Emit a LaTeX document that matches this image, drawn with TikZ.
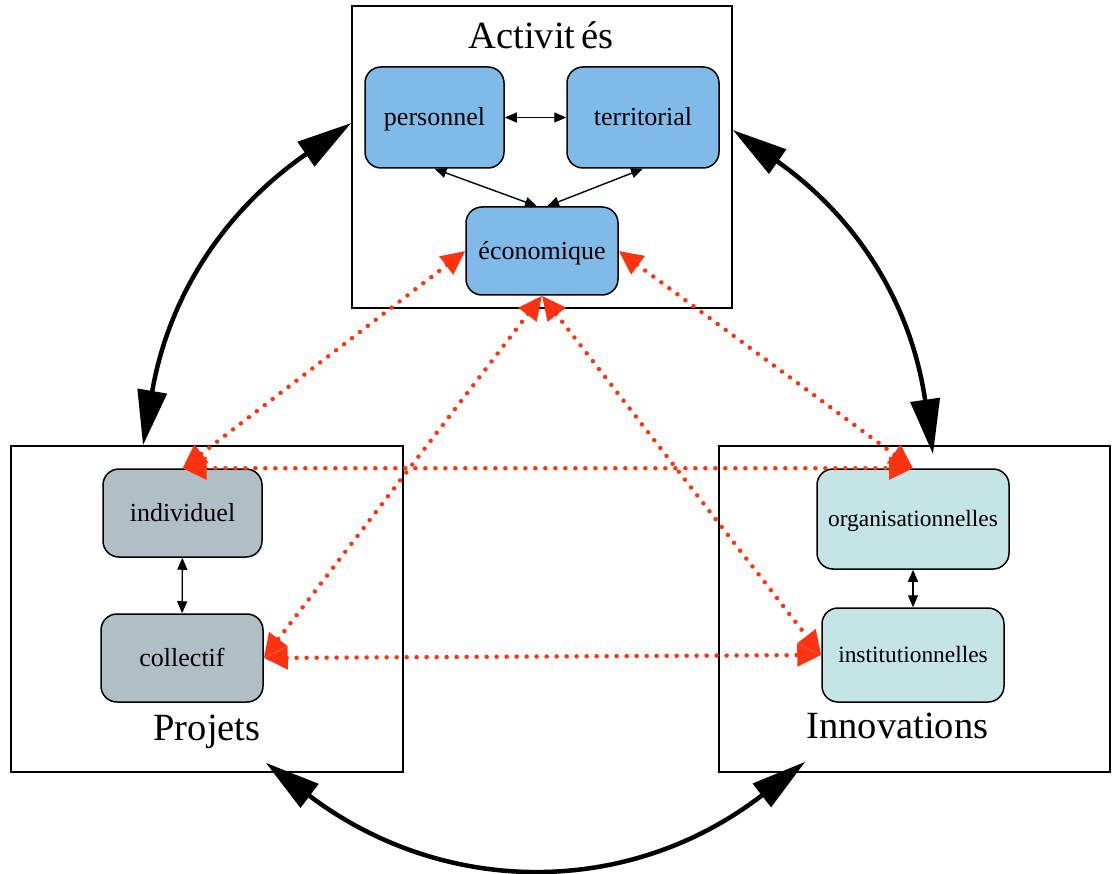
\documentclass[tikz,border=0pt]{standalone}
\usepackage{fontspec}
\setmainfont{Liberation Serif}
\usetikzlibrary{arrows.meta}
\definecolor{redd}{RGB}{255,51,17}
\definecolor{bluefill}{RGB}{128,186,232}
\definecolor{greyfill}{RGB}{176,190,198}
\definecolor{cyanfill}{RGB}{196,228,230}
\begin{document}
\begin{tikzpicture}[x=1pt,y=-1pt,
  bigbox/.style={draw, line width=1.5pt, inner sep=0pt},
  item/.style={draw, line width=1.5pt, rounded corners=16pt, inner sep=0pt, text height=17pt, text depth=0pt, font=\fontsize{26}{30}\selectfont},
  smallitem/.style={item, text height=15pt, font=\fontsize{23.4}{27}\selectfont},
  title/.style={font=\fontsize{38.5}{44}\selectfont, anchor=base, inner sep=0pt},
  thinarrow/.style={line width=1.4pt, {Triangle[length=12pt,width=10pt]}-{Triangle[length=12pt,width=10pt]}},
  bigarrow/.style={line width=4.5pt, {Triangle[length=55pt,width=29pt]}-{Triangle[length=55pt,width=29pt]}},
  reddot/.style={redd, line width=4.5pt, line cap=round, dash pattern=on 0pt off 10pt, {Triangle[length=24pt,width=22pt]}-{Triangle[length=24pt,width=22pt]}}]
\useasboundingbox (0,0) rectangle (1118,874);
% big boxes
\node[bigbox, minimum width=380pt, minimum height=302pt] (act) at (542,157) {};
\node[bigbox, minimum width=392pt, minimum height=326pt] (proj) at (207,609) {};
\node[bigbox, minimum width=391pt, minimum height=326pt] (inno) at (914.5,609) {};
% titles
\node[title] (tact) at (541,49) {Activit\kern6pt és};
\node[title] (tproj) at (207,740) {Projets};
\node[title] (tinno) at (897.5,738) {Innovations};
% items
\node[item, fill=bluefill, minimum width=139pt, minimum height=101pt] (pers) at (434.5,117.5) {personnel};
\node[item, fill=bluefill, minimum width=152pt, minimum height=101pt] (terr) at (643,117.5) {territorial};
\node[item, fill=bluefill, minimum width=152pt, minimum height=88pt] (eco) at (542,251) {économique};
\node[item, fill=greyfill, minimum width=159pt, minimum height=88pt] (indiv) at (182.5,513) {individuel};
\node[item, fill=greyfill, minimum width=162pt, minimum height=88pt] (coll) at (182,658) {collectif};
\node[smallitem, fill=cyanfill, minimum width=192pt, minimum height=100pt] (org) at (913,519) {organisationnelles};
\node[smallitem, fill=cyanfill, minimum width=182pt, minimum height=94pt] (inst) at (913,655) {institutionnelles};
% thin black arrows
\draw[thinarrow] (pers) -- (terr);
\draw[thinarrow] (pers.south) -- ([xshift=-5pt]eco.north);
\draw[thinarrow] (terr.south) -- ([xshift=5pt]eco.north);
\draw[thinarrow] (indiv) -- (coll);
\draw[thinarrow] (org) -- (inst);
% big arcs (parts of one circle)
\draw[bigarrow] ([yshift=34pt]act.west) .. controls (225,210) and (168.7,295.2) .. ([xshift=-64pt]proj.north);
\draw[bigarrow] ([yshift=27pt]act.east) .. controls (857.2,217.7) and (911.1,303.6) .. ([xshift=18.5pt,yshift=-9pt]inno.north);
\draw[bigarrow] ([xshift=-138pt,yshift=10pt]proj.south east) .. controls (443.7,897.4) and (629.3,898.1) .. ([xshift=87pt,yshift=11pt]inno.south west);
% red dotted arrows
\draw[reddot] (eco.west) -- (indiv.north);
\draw[reddot] (eco.east) -- (org.north);
\draw[reddot] (indiv.north) -- (org.north);
\draw[reddot] (eco.south) -- (coll.east);
\draw[reddot] (eco.south) -- (inst.west);
\draw[reddot] (coll.east) -- (inst.west);
\end{tikzpicture}
\end{document}
